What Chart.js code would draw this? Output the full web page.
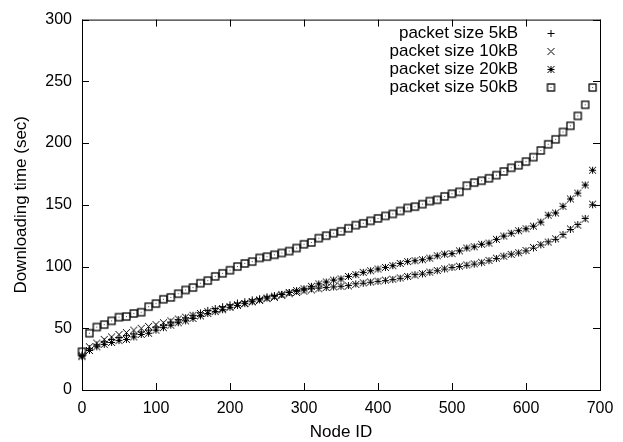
<!DOCTYPE html>
<html><head><meta charset="utf-8">
<script src="https://cdn.jsdelivr.net/npm/chart.js@4/dist/chart.umd.min.js"></script>
<style>html,body{margin:0;padding:0;background:#fff;}#c{display:block;}</style>
</head><body>
<canvas id="c" width="623" height="442"></canvas>
<script>
const nodeIds = [0,10,20,30,40,50,60,70,80,90,100,110,120,130,140,150,160,170,180,190,200,210,220,230,240,250,260,270,280,290,300,310,320,330,340,350,360,370,380,390,400,410,420,430,440,450,460,470,480,490,500,510,520,530,540,550,560,570,580,590,600,610,620,630,640,650,660,670,680,690];

const size5kB = [28,33.5,36.5,39,41,42.5,44,45.5,47,48.5,51,52.5,55,57,58.5,60.5,62.5,64.5,66,67.5,69,70.5,71.5,73,74,75.5,76.5,77.5,79,80,81,82,82.5,83,83.5,84,
84.6,86,86.5,87.3,88,88.6,89.4,90.5,91.8,93.4,94,95.3,96.6,98,99.3,100,101,102,103,104.7,106.5,108.5,110,111,112.7,115,117.5,120,122,126,130,134,139,150];

const size10kB = [28,35,38,41,43,45,46.5,48.5,50,51.5,53,54.5,56,57.5,59,60.5,62,63.5,65,66,67.5,69,70,71.5,72.5,74,75,76.5,78,79,80,81,82,83,83.5,84,
84.3,85.5,86.8,87.5,88.2,89,89.8,90.8,92,93,94.3,95.5,96.8,98.2,99.5,100.3,101.3,102.2,103.5,105,106.8,108.3,109.8,111.2,113,115.5,117.8,119.8,122.5,125.5,130.5,133.5,138.5,150.5];

const size20kB = [27,32,35,37,38.5,40,41,43,45,46,48.5,50.5,52.5,54.5,56,58,60,62,63.5,65,67,68.5,70,71.5,73,74.5,76,77.5,79,80.5,82,84,86,87.5,89,90,
92,93.4,95.3,96.6,98,99.3,100.7,102.5,104,104.7,105.5,106.8,108.7,110,110.5,112.7,115,116,118,119,122,124.7,127,129,130.6,132.7,136,141.6,143.4,148.8,154.7,159.5,166,178];

const size50kB = [31,46,51,53,56,59,59.5,62,63,67.5,70,73.5,75,78,81,83,86.5,88.6,92,94.5,97,100,102.5,104,107,108,109.5,111,112.5,115,118,119.5,123,125,127,128.5,
131,133.5,135,137,139,141,142.6,145,147.5,148.5,150.5,153,154,156.8,159,160.5,165.5,168,169.5,171.5,174,177,180,182,185,188.6,194,199,203,209,214,222,231,245];

const seriesLabels = ['packet size 5kB','packet size 10kB','packet size 20kB','packet size 50kB'];
const xTicks = [0,100,200,300,400,500,600,700];
const yTicks = [0,50,100,150,200,250,300];
const xTitle = 'Node ID';
const yTitle = 'Downloading time (sec)';

function marker(kind){
  const s = 11, c = document.createElement('canvas');
  c.width = s; c.height = s;
  const g = c.getContext('2d');
  g.strokeStyle = '#000'; g.fillStyle = '#000'; g.lineWidth = 1;
  g.beginPath();
  if (kind === 'plus' || kind === 'star') {
    g.moveTo(2, 5.5); g.lineTo(9, 5.5);
    g.moveTo(5.5, 2); g.lineTo(5.5, 9);
  }
  if (kind === 'cross' || kind === 'star') {
    g.moveTo(2, 2); g.lineTo(9, 9);
    g.moveTo(9, 2); g.lineTo(2, 9);
  }
  g.stroke();
  if (kind === 'box') {
    g.lineWidth = 1.3;
    g.strokeRect(2, 2, 7, 7);
    g.fillStyle = '#555';
    g.fillRect(5, 5, 1, 1);
  }
  return c;
}
const markers = [marker('plus'), marker('cross'), marker('star'), marker('box')];
const seriesValues = [size5kB, size10kB, size20kB, size50kB];

const FONT = '"Liberation Sans", Arial, Helvetica, sans-serif';

const frame = {
  id: 'frame',
  afterDraw(chart) {
    const {ctx, chartArea: a, scales: {x, y}} = chart;
    ctx.save();
    ctx.strokeStyle = '#000';
    ctx.lineWidth = 1;
    ctx.strokeRect(a.left + 0.5, a.top + 0.5, a.right - a.left, a.bottom - a.top);
    ctx.beginPath();
    const tl = 7;
    xTicks.forEach(v => {
      const px = Math.round(x.getPixelForValue(v)) + 0.5;
      ctx.moveTo(px, a.bottom); ctx.lineTo(px, a.bottom - tl);
      ctx.moveTo(px, a.top); ctx.lineTo(px, a.top + tl);
    });
    yTicks.forEach(v => {
      const py = Math.round(y.getPixelForValue(v)) + 0.5;
      ctx.moveTo(a.left, py); ctx.lineTo(a.left + tl, py);
      ctx.moveTo(a.right, py); ctx.lineTo(a.right - tl, py);
    });
    ctx.stroke();
    // axis titles
    ctx.fillStyle = '#000';
    ctx.font = '17px ' + FONT;
    ctx.textAlign = 'center';
    ctx.textBaseline = 'middle';
    ctx.fillText(xTitle, (a.left + a.right) / 2, 432);
    ctx.save();
    ctx.translate(21, (a.top + a.bottom) / 2);
    ctx.rotate(-Math.PI / 2);
    ctx.fillText(yTitle, 0, 0);
    ctx.restore();
    // legend
    ctx.textAlign = 'right';
    seriesLabels.forEach((lab, i) => {
      const ly = 33 + i * 18;
      ctx.fillText(lab, 518, ly);
      const m = markers[i];
      ctx.drawImage(m, 551 - m.width / 2, Math.round(ly) - m.height / 2 + 0.5);
    });
    ctx.restore();
  }
};

new Chart(document.getElementById('c'), {
  type: 'scatter',
  data: {
    datasets: seriesValues.map((vals, i) => ({
      label: seriesLabels[i],
      data: vals.map((v, j) => ({x: nodeIds[j], y: v})),
      pointStyle: markers[i],
      pointRadius: 4,
      showLine: false,
      clip: false
    }))
  },
  options: {
    responsive: false,
    animation: false,
    devicePixelRatio: 1,
    layout: {padding: {left: 0, top: 16, right: 23, bottom: 0}},
    plugins: {legend: {display: false}, tooltip: {enabled: false}},
    scales: {
      x: {
        type: 'linear', min: 0, max: 700,
        afterFit(s) { s.height = 52; },
        afterBuildTicks(s) { s.ticks = xTicks.map(v => ({value: v})); },
        grid: {display: false, drawTicks: false},
        border: {display: false},
        ticks: {color: '#000', padding: 9, maxRotation: 0, font: {family: FONT, size: 16}}
      },
      y: {
        type: 'linear', min: 0, max: 300,
        afterFit(s) { s.width = 82; },
        afterBuildTicks(s) { s.ticks = yTicks.map(v => ({value: v})); },
        grid: {display: false, drawTicks: false},
        border: {display: false},
        ticks: {color: '#000', padding: 10, font: {family: FONT, size: 16}}
      }
    }
  },
  plugins: [frame]
});
</script>
</body></html>
